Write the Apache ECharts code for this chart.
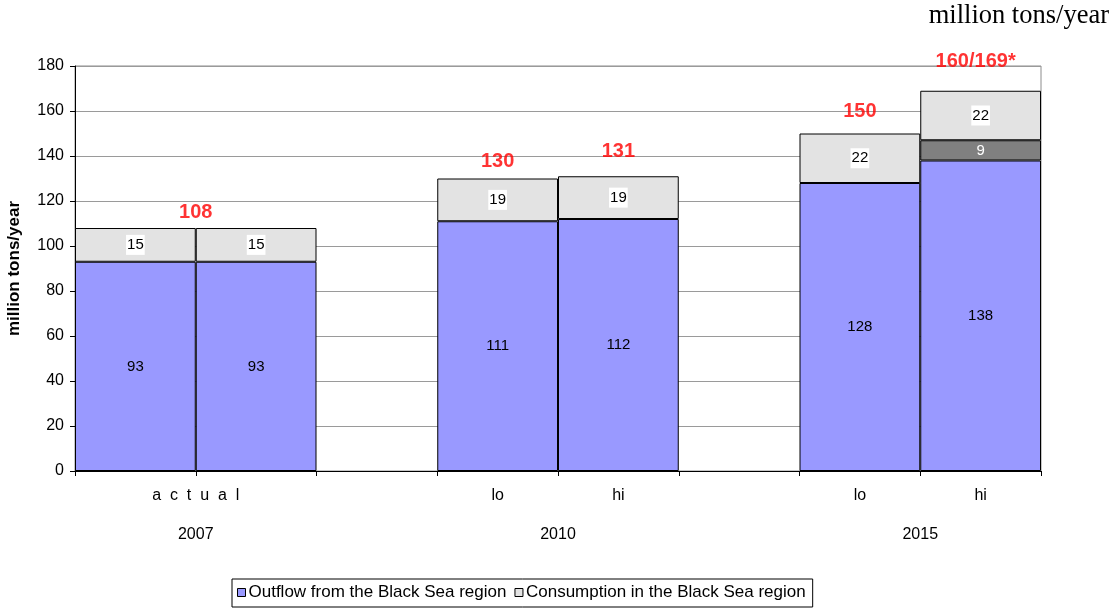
<!DOCTYPE html>
<html>
<head>
<meta charset="utf-8">
<script src="https://cdn.jsdelivr.net/npm/echarts@6/dist/echarts.min.js"></script>
<style>
  html, body { margin: 0; padding: 0; background: #fff; }
  #chart { width: 1119px; height: 608px; }
</style>
</head>
<body>
<div id="chart"></div>
<script>
// Slots along the x axis: one bar each, empty strings are spacer slots
const caseLabels = ['a  c  t  u  a  l', 'a  c  t  u  a  l', '', 'lo', 'hi', '', 'lo', 'hi'];
const yearLabels = ['2007', '2007', '', '2010', '2010', '', '2015', '2015'];

// Stacked values, million tons/year
const outflow      = [93, 93, null, 111, 112, null, 128, 138];
const extraOutflow = [null, null, null, null, null, null, null, 9];
const consumption  = [15, 15, null, 19, 19, null, 22, 22];

// Totals written above the bars (runs of equal text share one label)
const totals     = [108, 108, null, 130, 131, null, 150, 169];
const totalTexts = ['108', '108', '', '130', '131', '', '150', '160/169*'];

const yTicks = [0, 20, 40, 60, 80, 100, 120, 140, 160, 180];

const seriesNames = ['Outflow from the Black Sea region', 'Consumption in the Black Sea region'];
const extraName = 'Additional outflow';

// Group consecutive equal labels into runs, returning the run centre in slot units
function runs(labels) {
  const out = [];
  let i = 0;
  while (i < labels.length) {
    let j = i;
    while (j + 1 < labels.length && labels[j + 1] === labels[i]) j++;
    if (labels[i] !== '') out.push({ text: labels[i], start: i, end: j, center: (i + j + 1) / 2 });
    i = j + 1;
  }
  return out;
}

const caseRuns = runs(caseLabels);
const yearRuns = runs(yearLabels);
const totalRuns = runs(totalTexts);

// Label text for each half-slot position on the helper value axis
function bottomLabel(v) {
  const key = Math.round(v * 2);
  const c = caseRuns.find(r => Math.round(r.center * 2) === key);
  const y = yearRuns.find(r => Math.round(r.center * 2) === key);
  const top = c ? c.text : '';
  const bottom = y ? y.text : '';
  if (!top && !bottom) return '';
  return top + '\n' + bottom;
}

// Small per-label lift (px) and horizontal nudge for the red totals
const totalLift = { '108': 16, '130': 17, '131': 25, '150': 22, '160/169*': 29 };
const totalNudge = { '160/169*': -5 };

const totalPoints = totalRuns.map(r => {
  const value = Math.max(...totals.slice(r.start, r.end + 1));
  return {
    value: [r.center, value],
    label: { offset: [totalNudge[r.text] || 0, -(totalLift[r.text] || 16)] },
    name: r.text
  };
});

const font = 'Arial, "Liberation Sans", Helvetica, sans-serif';
const slotCount = caseLabels.length;

const chart = echarts.init(document.getElementById('chart'), null, { renderer: 'canvas' });

chart.setOption({
  animation: false,
  backgroundColor: '#ffffff',
  textStyle: { fontFamily: font },
  graphic: [{
    type: 'text',
    right: 10,
    top: 3,
    style: {
      text: 'million tons/year',
      font: '26.5px "Liberation Serif", "Times New Roman", serif',
      fill: '#000'
    }
  }],
  grid: {
    left: 75, right: 78, top: 66, bottom: 137,
    show: true, borderColor: '#8c8c8c', borderWidth: 1,
    containLabel: false, outerBoundsMode: 'none'
  },
  legend: {
    data: seriesNames,
    left: 232, top: 579,
    orient: 'horizontal',
    borderColor: '#000', borderWidth: 1,
    padding: [5, 7, 6, 5],
    itemWidth: 8, itemHeight: 8, itemGap: 8,
    icon: 'rect',
    itemStyle: { borderColor: '#000', borderWidth: 1 },
    textStyle: { fontFamily: font, fontSize: 17, color: '#000', padding: [0, 0, 0, -2] }
  },
  xAxis: [{
    type: 'category',
    data: caseLabels.map((_, i) => 'slot' + i),
    boundaryGap: true,
    axisLine: { lineStyle: { color: '#000', width: 1 } },
    axisTick: { show: true, interval: 0, length: 5, lineStyle: { color: '#000' } },
    axisLabel: { show: false },
    splitLine: { show: false }
  }, {
    type: 'value',
    min: 0, max: slotCount, interval: 0.5,
    position: 'bottom',
    axisLine: { show: false },
    axisTick: { show: false },
    splitLine: { show: false },
    axisLabel: {
      show: true,
      margin: 5,
      fontSize: 16,
      lineHeight: 39,
      color: '#000',
      fontFamily: font,
      showMinLabel: true, showMaxLabel: true,
      formatter: bottomLabel
    }
  }],
  yAxis: {
    type: 'value',
    min: yTicks[0], max: yTicks[yTicks.length - 1], interval: yTicks[1] - yTicks[0],
    name: 'million tons/year',
    nameLocation: 'middle',
    nameRotate: 90,
    nameGap: 52,
    nameTextStyle: { fontFamily: font, fontSize: 17, fontWeight: 'bold', color: '#000' },
    axisLine: { show: true, lineStyle: { color: '#000', width: 1 } },
    axisTick: { show: true, inside: false, length: 5, lineStyle: { color: '#000' } },
    axisLabel: { fontSize: 16, color: '#000', margin: 11, fontFamily: font },
    splitLine: { lineStyle: { color: '#9a9a9a', width: 1 } }
  },
  series: [{
    name: seriesNames[0],
    type: 'bar',
    stack: 'total',
    data: outflow,
    barCategoryGap: '0%',
    itemStyle: { color: '#9999ff', borderColor: '#000', borderWidth: 1 },
    label: { show: true, position: 'inside', color: '#000', fontSize: 15, fontFamily: font }
  }, {
    name: extraName,
    type: 'bar',
    stack: 'total',
    data: extraOutflow,
    barCategoryGap: '0%',
    itemStyle: { color: '#808080', borderColor: '#000', borderWidth: 1 },
    label: { show: true, position: 'inside', color: '#fff', fontSize: 15, fontFamily: font }
  }, {
    name: seriesNames[1],
    type: 'bar',
    stack: 'total',
    data: consumption,
    barCategoryGap: '0%',
    itemStyle: { color: '#e3e3e3', borderColor: '#000', borderWidth: 1 },
    label: {
      show: true, position: 'inside', color: '#000', fontSize: 15, fontFamily: font,
      backgroundColor: '#fff', padding: [3, 1, 2, 1]
    }
  }, {
    name: 'totals',
    type: 'scatter',
    xAxisIndex: 1,
    symbolSize: 0,
    silent: true,
    z: 10,
    data: totalPoints,
    label: {
      show: true,
      position: 'inside',
      formatter: p => p.name,
      color: '#ff0000',
      fontSize: 20,
      fontWeight: 'bold',
      fontFamily: font
    }
  }]
});
</script>
</body>
</html>
